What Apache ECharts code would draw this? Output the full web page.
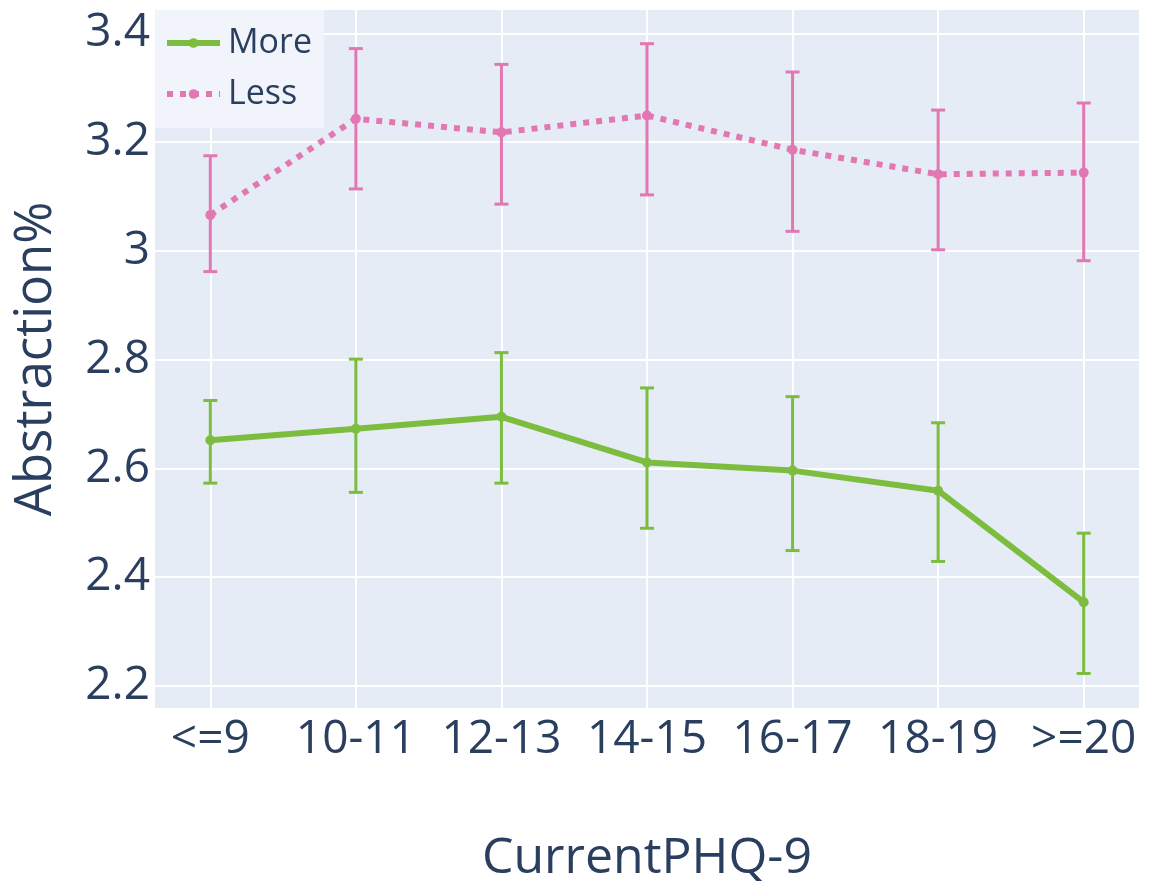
<!DOCTYPE html>
<html><head><meta charset="utf-8">
<script src="https://cdn.jsdelivr.net/npm/echarts@6/dist/echarts.min.js"></script>
<style>html,body{margin:0;padding:0;background:#fff}#c{width:1151px;height:881px}</style>
</head><body><div id="c"></div>
<script>
const categories = ['<=9', '10-11', '12-13', '14-15', '16-17', '18-19', '>=20'];
const moreMean = [2.652, 2.673, 2.695, 2.611, 2.596, 2.559, 2.354];
const moreLow  = [2.573, 2.556, 2.573, 2.490, 2.449, 2.429, 2.223];
const moreHigh = [2.725, 2.801, 2.813, 2.748, 2.732, 2.684, 2.481];
const lessMean = [3.066, 3.243, 3.218, 3.249, 3.186, 3.141, 3.144];
const lessLow  = [2.962, 3.114, 3.086, 3.103, 3.036, 3.002, 2.982];
const lessHigh = [3.175, 3.372, 3.343, 3.381, 3.329, 3.259, 3.272];
const yTicks = [2.2, 2.4, 2.6, 2.8, 3.0, 3.2, 3.4];

const GREEN = '#7cbd40';
const PINK = '#e377b2';
const TXT = '#2a3f5f';
const FONT = '"Open Sans", "DejaVu Sans", sans-serif';
const xIdx = categories.map((c, i) => i);

function errSeries(name, color, lo, hi) {
  return {
    type: 'custom', name: name + ' err', z: 2, silent: true,
    data: xIdx.map(i => [i, lo[i], hi[i]]),
    renderItem: function (params, api) {
      const a = api.coord([api.value(0), api.value(1)]);
      const b = api.coord([api.value(0), api.value(2)]);
      const w = 7;
      const st = { stroke: color, lineWidth: 3 };
      return { type: 'group', children: [
        { type: 'line', shape: { x1: a[0], y1: a[1], x2: b[0], y2: b[1] }, style: st },
        { type: 'line', shape: { x1: a[0] - w, y1: a[1], x2: a[0] + w, y2: a[1] }, style: st },
        { type: 'line', shape: { x1: b[0] - w, y1: b[1], x2: b[0] + w, y2: b[1] }, style: st }
      ]};
    }
  };
}

const chart = echarts.init(document.getElementById('c'), null, { renderer: 'canvas' });
chart.setOption({
  backgroundColor: '#ffffff',
  animation: false,
  textStyle: { fontFamily: FONT, color: TXT },
  grid: { left: 155, right: 12, top: 10, bottom: 173, show: true, backgroundColor: '#e5ecf6',
    borderWidth: 0, containLabel: false, outerBoundsMode: 'none' },
  legend: {
    left: 155, top: 10, orient: 'vertical',
    data: ['More', 'Less'],
    itemWidth: 53, itemHeight: 12, itemGap: 17,
    padding: [16, 12, 17, 9],
    backgroundColor: '#f1f4fa',
    lineStyle: { width: 6 },
    textStyle: { fontSize: 34, color: TXT, fontFamily: FONT, padding: [0, 0, 0, 3] }
  },
  xAxis: {
    type: 'value', min: -0.38, max: 6.38,
    name: 'CurrentPHQ-9', nameLocation: 'middle', nameGap: 126,
    nameTextStyle: { fontSize: 50, color: TXT, fontFamily: FONT },
    axisLine: { show: false },
    axisTick: { show: false, customValues: xIdx },
    axisLabel: { customValues: xIdx, fontSize: 46, color: TXT, margin: 9, fontFamily: FONT,
      formatter: v => categories[Math.round(v)] },
    splitLine: { show: true, lineStyle: { color: '#ffffff', width: 2 } }
  },
  yAxis: {
    type: 'value', min: 2.1595, max: 3.443,
    name: 'Abstraction%', nameLocation: 'middle', nameGap: 93,
    nameTextStyle: { fontSize: 51, color: TXT, fontFamily: FONT },
    axisLine: { show: false },
    axisTick: { show: false, customValues: yTicks },
    axisLabel: { customValues: yTicks, fontSize: 46, color: TXT, margin: 5, fontFamily: FONT,
      formatter: v => String(parseFloat(v.toFixed(1))) },
    splitLine: { show: true, lineStyle: { color: '#ffffff', width: 2 } }
  },
  series: [
    errSeries('More', GREEN, moreLow, moreHigh),
    errSeries('Less', PINK, lessLow, lessHigh),
    {
      type: 'line', name: 'More', z: 3,
      data: xIdx.map(i => [i, moreMean[i]]),
      symbol: 'circle', symbolSize: 10, showSymbol: true,
      itemStyle: { color: GREEN },
      lineStyle: { color: GREEN, width: 6 }
    },
    {
      type: 'line', name: 'Less', z: 3,
      data: xIdx.map(i => [i, lessMean[i]]),
      symbol: 'circle', symbolSize: 10, showSymbol: true,
      itemStyle: { color: PINK },
      lineStyle: { color: PINK, width: 6, type: [6, 7] }
    }
  ]
});
</script></body></html>
